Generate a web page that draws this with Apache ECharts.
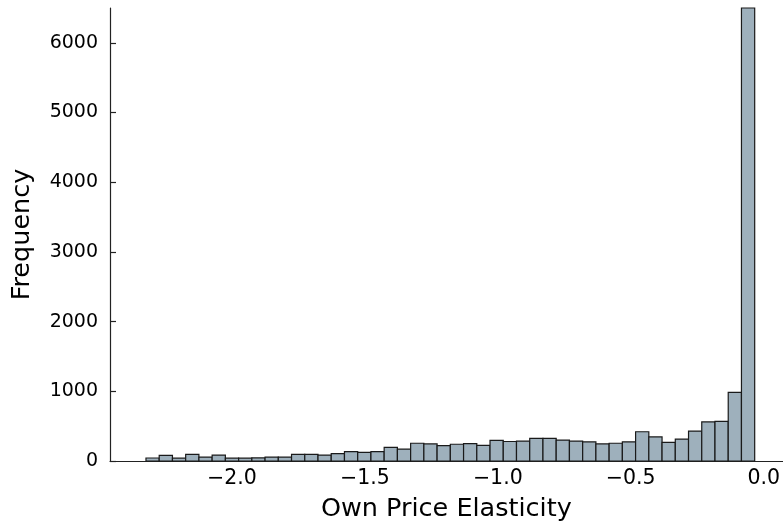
<!DOCTYPE html>
<html>
<head>
<meta charset="utf-8">
<script src="https://cdn.jsdelivr.net/npm/echarts@6/dist/echarts.min.js"></script>
<style>html,body{margin:0;padding:0;background:#fff;}#c{width:783px;height:527px;}</style>
</head>
<body>
<div id="c"></div>
<script>
const binStart = -2.3233;
const binWidth = 0.04977;
const counts = [43, 80, 40, 95, 55, 85, 40, 40, 45, 55, 55, 95, 95, 85, 105, 135, 125, 135, 195, 170,
  255, 245, 220, 240, 250, 225, 295, 280, 285, 325, 325, 300, 285, 275, 245, 255, 275, 420, 345, 268,
  315, 430, 560, 570, 985, 6500];
const xTicks = [-2.0, -1.5, -1.0, -0.5, 0.0];
const yTicks = [0, 1000, 2000, 3000, 4000, 5000, 6000];
const xTitle = 'Own Price Elasticity';
const yTitle = 'Frequency';

const bins = counts.map((c, i) => [binStart + i * binWidth, binStart + (i + 1) * binWidth, c]);
const ink = '#000000';
const lineInk = '#222222';
const font = 'DejaVu Sans';

const chart = echarts.init(document.getElementById('c'), null, {renderer: 'canvas'});
chart.setOption({
  animation: false,
  grid: {left: 110, right: 0, top: 8, bottom: 66, containLabel: false},
  xAxis: {
    type: 'value', min: -2.4586, max: 0.0714,
    name: xTitle, nameLocation: 'middle', nameGap: 35,
    nameTextStyle: {fontFamily: font, fontSize: 25.5, color: ink},
    axisLine: {show: true, onZero: false, lineStyle: {color: lineInk, width: 1.2}},
    axisTick: {show: false},
    axisLabel: {fontFamily: font, fontSize: 20.5, color: ink, margin: 7, customValues: xTicks,
      formatter: v => (v < 0 ? '\u2212' : '') + Math.abs(v).toFixed(1)},
    splitLine: {show: false}
  },
  yAxis: {
    type: 'value', min: 0, max: 6500,
    name: yTitle, nameLocation: 'middle', nameGap: 75,
    nameTextStyle: {fontFamily: font, fontSize: 25.5, color: ink},
    axisLine: {show: true, onZero: false, lineStyle: {color: lineInk, width: 1.2}},
    axisTick: {show: true, inside: true, length: 6, lineStyle: {color: lineInk, width: 1.2}, customValues: yTicks},
    axisLabel: {fontFamily: font, fontSize: 19, color: ink, margin: 12, customValues: yTicks,
      formatter: v => String(v)},
    splitLine: {show: false}
  },
  series: [{
    type: 'custom',
    data: bins,
    encode: {x: [0, 1], y: 2},
    renderItem: function (params, api) {
      const p0 = api.coord([api.value(0), api.value(2)]);
      const p1 = api.coord([api.value(1), 0]);
      return {
        type: 'rect',
        shape: {x: p0[0], y: p0[1], width: p1[0] - p0[0], height: p1[1] - p0[1]},
        style: {fill: '#9eb0bc', stroke: '#1a1a1a', lineWidth: 1.2}
      };
    }
  }]
});
</script>
</body>
</html>
